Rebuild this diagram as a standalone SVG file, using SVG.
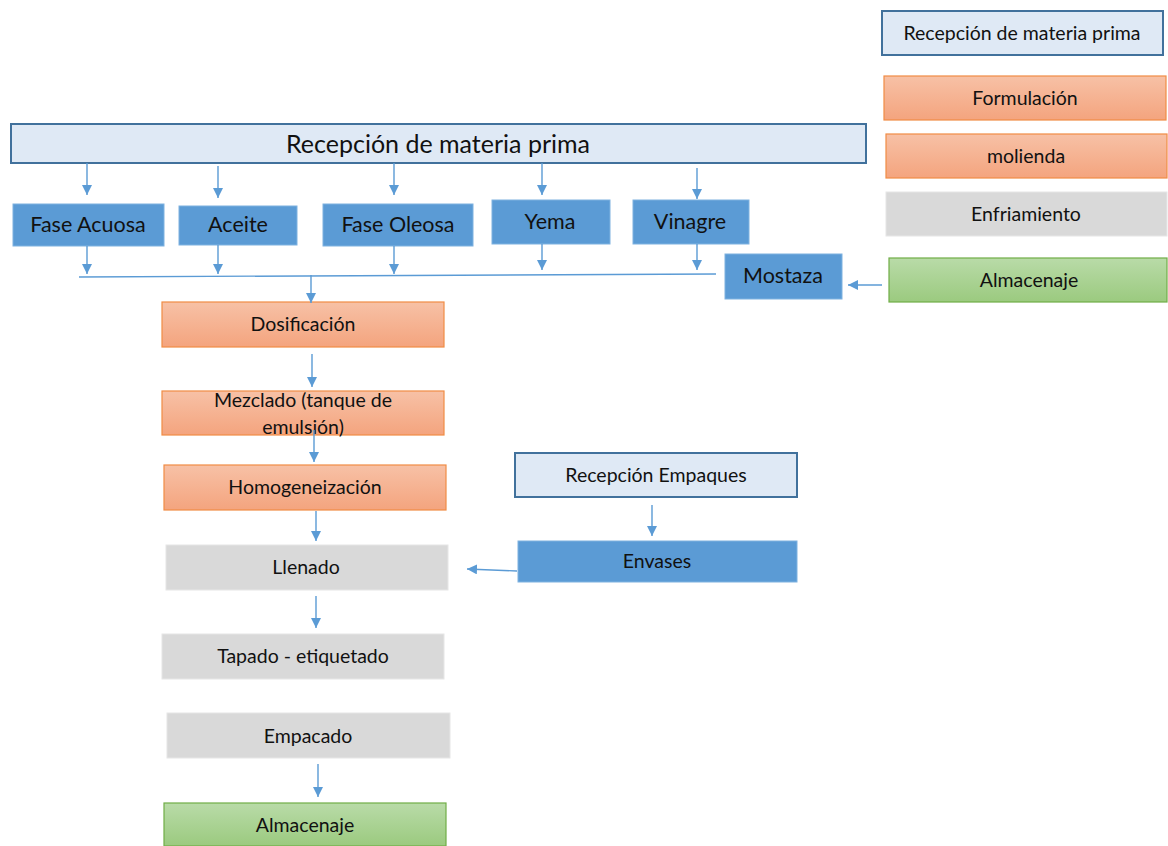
<svg xmlns="http://www.w3.org/2000/svg" width="1168" height="846" viewBox="0 0 1168 846">
<style>
text{font-family:Lato,"Open Sans","Liberation Sans",sans-serif;fill:#111;text-anchor:middle;dominant-baseline:central}
.s{font-size:19.5px}
.m{font-size:21.5px}
.l{font-size:25px}
.rec{fill:#dfe9f5;stroke:#41719c;stroke-width:2}
.ora{fill:url(#go);stroke:#f08c45;stroke-width:1.2}
.gry{fill:#d9d9d9;stroke:#e6e6e6;stroke-width:1}
.grn{fill:url(#gg);stroke:#70ad47;stroke-width:1.2}
.blu{fill:#5b9bd5;stroke:#7fb2e0;stroke-width:1}
.c{stroke:#5b9bd5;stroke-width:1.4;fill:none}
</style>
<defs>
<linearGradient id="go" x1="0" y1="0" x2="0" y2="1"><stop offset="0" stop-color="#f7c1a6"/><stop offset="1" stop-color="#f4a47e"/></linearGradient>
<linearGradient id="gg" x1="0" y1="0" x2="0" y2="1"><stop offset="0" stop-color="#b9dba8"/><stop offset="1" stop-color="#9bca7f"/></linearGradient>
<marker id="ah" viewBox="0 0 10 10" refX="10" refY="5" markerWidth="10" markerHeight="10" markerUnits="userSpaceOnUse" orient="auto"><path d="M0,0 L10,5 L0,10 z" fill="#5b9bd5"/></marker>
</defs>
<rect width="1168" height="846" fill="#fff"/>

<g id="legend-recepcion"><rect class="rec" x="882" y="11" width="281" height="44"/><text class="s" x="1022" y="32">Recepción de materia prima</text></g>
<g id="legend-formulacion"><rect class="ora" x="884" y="76" width="282" height="44"/><text class="s" x="1025" y="97">Formulación</text></g>
<g id="legend-molienda"><rect class="ora" x="886" y="134" width="281" height="44"/><text class="s" x="1026" y="155">molienda</text></g>
<g id="legend-enfriamiento"><rect class="gry" x="886" y="192" width="281" height="44"/><text class="s" x="1026" y="213">Enfriamiento</text></g>
<g id="legend-almacenaje"><rect class="grn" x="889" y="258" width="278" height="44"/><text class="s" x="1029" y="279">Almacenaje</text></g>

<g id="recepcion"><rect class="rec" x="11" y="124" width="855" height="39"/><text class="l" x="438" y="143">Recepción de materia prima</text></g>
<g id="fase-acuosa"><rect class="blu" x="13" y="204" width="151" height="42"/><text class="m" x="88" y="224">Fase Acuosa</text></g>
<g id="aceite"><rect class="blu" x="179" y="206" width="118" height="39"/><text class="m" x="238" y="224">Aceite</text></g>
<g id="fase-oleosa"><rect class="blu" x="323" y="204" width="150" height="42"/><text class="m" x="398" y="224">Fase Oleosa</text></g>
<g id="yema"><rect class="blu" x="492" y="200" width="118" height="44"/><text class="m" x="550" y="221">Yema</text></g>
<g id="vinagre"><rect class="blu" x="633" y="200" width="116" height="44"/><text class="m" x="690" y="221">Vinagre</text></g>
<g id="mostaza"><rect class="blu" x="725" y="254" width="117" height="45"/><text class="m" x="783" y="275">Mostaza</text></g>

<g id="dosificacion"><rect class="ora" x="162" y="302" width="282" height="45"/><text class="s" x="303" y="323">Dosificación</text></g>
<g id="mezclado"><rect class="ora" x="162" y="391" width="282" height="44"/><text class="s" x="303" y="399">Mezclado (tanque de</text><text class="s" x="303" y="426">emulsión)</text></g>
<g id="homogeneizacion"><rect class="ora" x="164" y="465" width="282" height="45"/><text class="s" x="305" y="486">Homogeneización</text></g>
<g id="llenado"><rect class="gry" x="166" y="545" width="282" height="45"/><text class="s" x="306" y="566">Llenado</text></g>
<g id="tapado"><rect class="gry" x="162" y="634" width="282" height="45"/><text class="s" x="303" y="655">Tapado - etiquetado</text></g>
<g id="empacado"><rect class="gry" x="167" y="713" width="283" height="45"/><text class="s" x="308" y="735">Empacado</text></g>
<g id="almacenaje"><rect class="grn" x="164" y="803" width="282" height="43"/><text class="s" x="305" y="824">Almacenaje</text></g>

<g id="recepcion-empaques"><rect class="rec" x="515" y="453" width="282" height="44"/><text class="s" x="656" y="474">Recepción Empaques</text></g>
<g id="envases"><rect class="blu" x="518" y="541" width="279" height="41"/><text class="s" x="657" y="560">Envases</text></g>

<g id="connectors">
<line class="c" x1="87" y1="163" x2="87" y2="195" marker-end="url(#ah)"/>
<line class="c" x1="218" y1="166" x2="218" y2="198" marker-end="url(#ah)"/>
<line class="c" x1="394" y1="163" x2="394" y2="195" marker-end="url(#ah)"/>
<line class="c" x1="542" y1="163" x2="542" y2="195" marker-end="url(#ah)"/>
<line class="c" x1="697" y1="168" x2="697" y2="199" marker-end="url(#ah)"/>
<line class="c" x1="87" y1="246" x2="87" y2="274" marker-end="url(#ah)"/>
<line class="c" x1="218" y1="245" x2="218" y2="274" marker-end="url(#ah)"/>
<line class="c" x1="394" y1="246" x2="394" y2="274" marker-end="url(#ah)"/>
<line class="c" x1="542" y1="244" x2="542" y2="270" marker-end="url(#ah)"/>
<line class="c" x1="697" y1="244" x2="697" y2="270" marker-end="url(#ah)"/>
<line class="c" x1="79" y1="277" x2="716" y2="274"/>
<line class="c" x1="311" y1="275" x2="311" y2="303" marker-end="url(#ah)"/>
<line class="c" x1="882" y1="285" x2="848" y2="285" marker-end="url(#ah)"/>
<line class="c" x1="312" y1="354" x2="312" y2="387" marker-end="url(#ah)"/>
<line class="c" x1="314" y1="430" x2="314" y2="462" marker-end="url(#ah)"/>
<line class="c" x1="316" y1="511" x2="316" y2="541" marker-end="url(#ah)"/>
<line class="c" x1="652" y1="505" x2="652" y2="536" marker-end="url(#ah)"/>
<line class="c" x1="517" y1="571" x2="467" y2="569" marker-end="url(#ah)"/>
<line class="c" x1="316" y1="596" x2="316" y2="628" marker-end="url(#ah)"/>
<line class="c" x1="318" y1="764" x2="318" y2="797" marker-end="url(#ah)"/>
</g>
</svg>
